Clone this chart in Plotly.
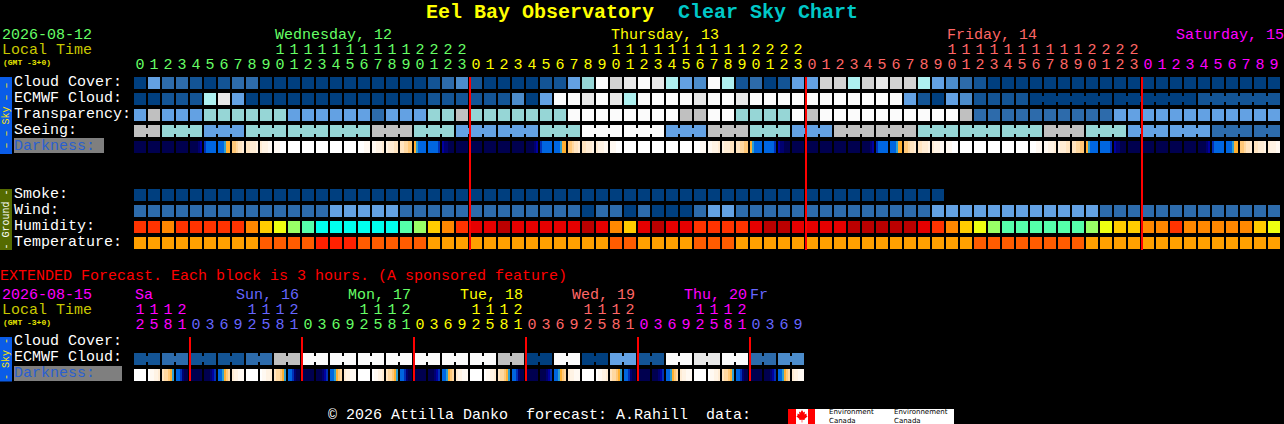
import plotly.graph_objects as go

# ---------- data (one letter = one forecast level) ----------
cloud_cover = "aeccbabcca" "aaaaaaaaaa" "abcdbaaaab" "begjHijife" "djfbcabeeH" "HfHiHHfedc" "baaaaaaaaa" "aaaaaaaaaa" "aa"
ecmwf_cloud = "aabbbfieaa" "aaaaaaaaaa" "abbbbbbdae" "jjijifjjjj" "ijjijjjjjj" "jjjjjebaed" "bbbbaaaaaa" "aaaaaabbbb" "bb"
transparency = "eheeeggggg" "geeeeeecee" "egghgggggg" "gjjjjjjjjh" "hjjggggjhj" "jjjjjjjjjh" "cccccccccc" "eeeeeeeeee" "ee"
seeing_levels = "hgegggh" "geegjjehgeh" "hgggh" "geecc"
seeing_hours = [2, 3, 3, 3, 3, 3, 3, 3, 3, 3, 3, 3, 3, 3, 3, 3, 3, 3, 3, 3, 3, 3, 3, 3, 3, 3, 3, 2]
smoke = "a" * 58
wind = "cccccccccc" "cccceeeeec" "cccccccccc" "ccaccacaaa" "ceeccccccc" "ccccccceee" "eeeeeeeeec" "cccccccccc" "cc"
humidity = "RRORRRRROY" "WLMCCCCCCM" "LYORXXDXXX" "XXDXOYXDXX" "RRRRXDDXXX" "XDDDDDXROY" "WLMMMMMMLW" "YYOOROOOOO" "YW"
temperature = "TTTTTTTTTU" "UUUVVVUUUU" "UTTTTTTTTT" "TTTTUUTTTT" "UUUTTTTTTT" "TTTTTTTTTT" "UUUUUUUUTT" "TTTTTTTTTT" "TT"
ecmwf_merged_hours = [(64, 69), (70, 75), (76, 81)]
ext_ecmwf_pairs = "bcbbchjjjjjjjhajaebjijcd"

# darkness: six samples per block for one day, hours 0..23
darkness_day = [
    [0, 0, 0, 0, 0, 0], [0, 0, 0, 0, 0, 0], [0, 0, 0, 0, 0, 0], [0, 0, 0, 0, 0, 0],
    [0, 0, 0, 0, 1, 2], [3, 4, 4, 4, 4, 4], [4, 4, 4, 5, 6, 6], [7, 7, 8, 9, 9, 10],
    [9, 9, 10, 10, 10, 11], [10, 11, 11, 11, 12, 12], [12, 12, 12, 13, 13, 13], [13, 13, 13, 13, 13, 13],
    [13, 13, 13, 13, 13, 13], [13, 13, 13, 13, 13, 13], [13, 13, 13, 13, 13, 13], [13, 13, 13, 13, 13, 13],
    [13, 13, 13, 12, 12, 12], [12, 12, 11, 11, 11, 10], [11, 10, 10, 10, 9, 9], [9, 9, 8, 8, 7, 7],
    [6, 5, 4, 4, 4, 4], [4, 4, 4, 4, 4, 3], [2, 1, 1, 0, 0, 0], [0, 0, 0, 0, 0, 0],
]
# darkness of the extended forecast: one day of 3-hour blocks from 12h
darkness_ext_day = [
    [13, 13, 13, 13, 13, 13], [13, 12, 12, 11, 11, 10], [9, 8, 8, 7, 6, 5], [4, 4, 3, 1, 0, 0],
    [0, 0, 0, 0, 0, 0], [0, 0, 0, 1, 2, 3], [4, 4, 5, 6, 7, 8], [10, 11, 11, 12, 12, 12],
]

hour_digits = "012345678901234567890123" * 3 + "0123456789"
ext_hour_digits = "2581" + "03692581" * 5 + "0369"
tens_row = "11111111112222"
ext_tens_row = "1112"
main_day_labels = [("Wednesday, 12", 275), ("Thursday, 13", 611), ("Friday, 14", 947), ("Saturday, 15", 1176)]
ext_day_labels = [("Sa", 135, 0), ("Sun, 16", 236, 1), ("Mon, 17", 348, 2), ("Tue, 18", 460, 3),
                  ("Wed, 19", 572, 4), ("Thu, 20", 684, 0), ("Fr", 750, 1)]

# ---------- styles ----------
PALETTE = {
    "a": "#003f7f", "b": "#135495", "c": "#2d6bab", "d": "#4c8ccb", "e": "#63a1e3",
    "f": "#aef0f0", "g": "#96d6d6", "h": "#c0c0c0", "H": "#d2d2d2", "i": "#e8e8e8", "j": "#fbfbfb",
    "R": "#ff3300", "O": "#ff8800", "Y": "#ffcc00", "W": "#eeff11", "L": "#99ff66", "M": "#55ffaa",
    "C": "#00ffee", "D": "#bb0000", "X": "#e60000", "T": "#ffa000", "U": "#ff5c00", "V": "#ff2000",
}
KEYS = list(PALETTE)
LEVEL = {k: n for n, k in enumerate(KEYS)}
DARK = ["#00004f", "#000070", "#0000a0", "#0030b8", "#0066e0", "#2ea0d0", "#ffb030", "#ffc878",
        "#ffd8a0", "#ffe4c0", "#ffecd4", "#fff3e4", "#fff9f2", "#ffffff"]


def discrete(colors):
    n = len(colors)
    out = []
    for k, c in enumerate(colors):
        out += [[k / n, c], [(k + 1) / n, c]]
    return out


GREEN, YEL, RED2, MAG, BLUE2 = "#66ff66", "#ffff00", "#ff6666", "#ff00ff", "#6666ff"
MONO = "Liberation Mono"


def X(px):  # page pixel -> hour-column axis
    return (px - 140) / 14


def Y(py):  # page pixel -> row axis
    return (py - 83) / 16


fig = go.Figure()


def row(levels, py):
    fig.add_trace(go.Heatmap(z=[[LEVEL[c] for c in levels]], x0=0, dx=1, y0=Y(py), dy=1, xgap=2, ygap=4,
                             zmin=-0.5, zmax=len(KEYS) - 0.5, colorscale=discrete(list(PALETTE.values())),
                             showscale=False, hoverinfo="skip"))


def dark_row(blocks, py):
    z = []
    for b in blocks:
        z += list(b) + [None]
    fig.add_trace(go.Heatmap(z=[z], x0=-5 / 14, dx=1 / 7, y0=Y(py), dy=1, ygap=4,
                             zmin=-0.5, zmax=len(DARK) - 0.5, colorscale=discrete(DARK),
                             showscale=False, hoverinfo="skip"))


def joins(levels_by_col, groups, py):
    xs, cs = [], []
    for a, b in groups:
        for c in range(a, b):
            xs.append(c + 0.5)
            cs.append(PALETTE[levels_by_col[c]])
    fig.add_trace(go.Scatter(x=xs, y=[Y(py)] * len(xs), mode="markers", hoverinfo="skip",
                             marker=dict(symbol="square", size=6, color=cs, line=dict(width=0))))


def digits(cols, text, py, color):
    fig.add_trace(go.Scatter(x=cols, y=[Y(py)] * len(cols), mode="text", text=list(text),
                             textposition="middle center", hoverinfo="skip",
                             textfont=dict(family=MONO, size=15, color=color)))


def note(text, px, py, color="#ffffff", size=15, bold=False, family=MONO):
    fig.add_annotation(x=X(px), y=Y(py), text=f"<b>{text}</b>" if bold else text, showarrow=False, xanchor="left",
                       yanchor="middle", borderpad=0, borderwidth=0, align="left",
                       font=dict(family=family, size=size, color=color))


def band(x0, x1, y0, y1, color, layer="below"):
    fig.add_shape(type="rect", x0=X(x0), x1=X(x1), y0=Y(y0), y1=Y(y1), fillcolor=color,
                  line=dict(width=0), layer=layer)


# ---------- main forecast ----------
row(cloud_cover, 83)
row(ecmwf_cloud, 99)
row(transparency, 115)
seeing_cols = "".join(l * n for l, n in zip(seeing_levels, seeing_hours))
row(seeing_cols, 131)
dark_row((darkness_day * 4)[:82], 147)
row(smoke, 195)
row(wind, 211)
row(humidity, 227)
row(temperature, 243)
joins(ecmwf_cloud, ecmwf_merged_hours, 99)
groups, start = [], 0
for n in seeing_hours:
    groups.append((start, start + n - 1))
    start += n
joins(seeing_cols, groups, 131)

# ---------- extended forecast ----------
ext_cols = "".join(l * 2 for l in ext_ecmwf_pairs)
row(ext_cols, 359)
dark_row(darkness_ext_day * 6, 375)
joins(ext_cols, [(k, k + 1) for k in range(0, 48, 2)], 359)

# midnight markers (drawn 1 px into the block that starts the day)
for c in (24, 48, 72):
    fig.add_trace(go.Scatter(x=[c - 6 / 14] * 2, y=[Y(77), Y(250)], mode="lines", hoverinfo="skip",
                             line=dict(color="#ff0000", width=2)))
for c in (4, 12, 20, 28, 36, 44):
    fig.add_trace(go.Scatter(x=[c - 6 / 14] * 2, y=[Y(337), Y(381)], mode="lines", hoverinfo="skip",
                             line=dict(color="#ff0000", width=2)))

# hour headers
for a, b, col in ((0, 24, GREEN), (24, 48, YEL), (48, 72, RED2), (72, 82, MAG)):
    digits(list(range(a, b)), hour_digits[a:b], 65, col)
    if b - a == 24:
        digits(list(range(a + 10, b)), tens_row, 50, col)
for a, b, col in ((0, 4, MAG), (4, 12, BLUE2), (12, 20, GREEN), (20, 28, YEL), (28, 36, RED2), (36, 44, MAG), (44, 48, BLUE2)):
    digits(list(range(a, b)), ext_hour_digits[a:b], 325, col)
    if b - a > 4 or a == 0:
        digits(list(range(b - 4, b)), ext_tens_row, 310, col)

# texts
note("Eel Bay Observatory", 426, 12, YEL, 20, True)
note("Clear Sky Chart", 678, 12, "#00c8c8", 20, True)
note("2026-08-12", 2, 35, GREEN)
note("Local Time", 2, 50, "#c8c800")
note("(GMT -3+0)", 3, 62, "#e6e600", 8, True)
for (t, x), col in zip(main_day_labels, (GREEN, YEL, RED2, MAG)):
    note(t, x, 35, col)
for t, py in (("Cloud Cover:", 82), ("ECMWF Cloud:", 98), ("Transparency:", 114), ("Seeing:", 130),
              ("Smoke:", 194), ("Wind:", 210), ("Humidity:", 226), ("Temperature:", 242),
              ("Cloud Cover:", 341), ("ECMWF Cloud:", 357)):
    note(t, 14, py)
note("Darkness:", 14, 146, "#2a5fd0")
note("Darkness:", 14, 373, "#2a5fd0")
band(14, 104, 138, 153, "#7f7f7f")
band(14, 122, 366, 381, "#7f7f7f")
note("EXTENDED Forecast. Each block is 3 hours. (A sponsored feature)", 0, 276, "#ff0000")
note("2026-08-15", 2, 295, MAG)
note("Local Time", 2, 310, "#c8c800")
note("(GMT -3+0)", 3, 322, "#e6e600", 8, True)
ext_label_colors = [MAG, BLUE2, GREEN, YEL, RED2]
for t, x, k in ext_day_labels:
    note(t, x, 295, ext_label_colors[k])
note("\u00a9 2026 Attilla Danko  forecast: A.Rahill  data:", 328, 415)

# side bands
band(0, 12, 77, 154, "#0a5ce8")
band(0, 12, 189, 250, "#556b00")
band(0, 12, 337, 381.5, "#0a5ce8")
for t, py, col in (("\u2013 \u2013 Sky \u2013 \u2013", 115.5, "#ffe600"), ("- Ground -", 219.5, "#ffffff"), ("- Sky -", 359, "#ffe600")):
    fig.add_annotation(x=X(6), y=Y(py), text=t, showarrow=False, textangle=-90, xanchor="center", yanchor="middle",
                       borderpad=0, font=dict(family=MONO, size=10, color=col))

# Environment Canada logo
band(788, 954, 409, 424, "#ffffff")
band(788, 796, 409, 424, "#ff0000")
band(808, 815, 409, 424, "#ff0000")
leaf = [(802, 410), (803.5, 412.5), (805, 411.5), (804.5, 414.5), (806.5, 413.5), (806.5, 415.5), (807.5, 416.5),
        (804.5, 419), (804.8, 420), (802.3, 419.7), (802.3, 422.5), (801.7, 422.5), (801.7, 419.7), (799.2, 420),
        (799.5, 419), (796.5, 416.5), (797.5, 415.5), (797.5, 413.5), (799.5, 414.5), (799, 411.5), (800.5, 412.5)]
fig.add_shape(type="path", line=dict(width=0), fillcolor="#ff0000",
              path="M " + " L ".join(f"{X(a):.4f},{Y(b):.4f}" for a, b in leaf) + " Z")
for x, a in ((829, "Environment<br>Canada"), (894, "Environnement<br>Canada")):
    note(a, x, 416, "#000000", 7, family="DejaVu Sans")

fig.update_layout(
    width=1284, height=424, autosize=False, showlegend=False, hovermode=False,
    margin=dict(l=0, r=0, t=0, b=0), paper_bgcolor="#000000", plot_bgcolor="#000000",
    xaxis=dict(visible=False, range=[X(0), X(1284)], fixedrange=True),
    yaxis=dict(visible=False, range=[Y(424), Y(0)], fixedrange=True),
)
for name, s in (("cloud", cloud_cover), ("ecmwf", ecmwf_cloud), ("transp", transparency), ("seeing", seeing_cols),
                ("wind", wind), ("hum", humidity), ("temp", temperature)):
    assert len(s) == 82, (name, len(s))
fig.write_html("out.html", config=dict(displayModeBar=False, staticPlot=True),
               post_script="document.body.style.margin='0';document.body.style.overflow='hidden';document.body.style.background='#000';")
